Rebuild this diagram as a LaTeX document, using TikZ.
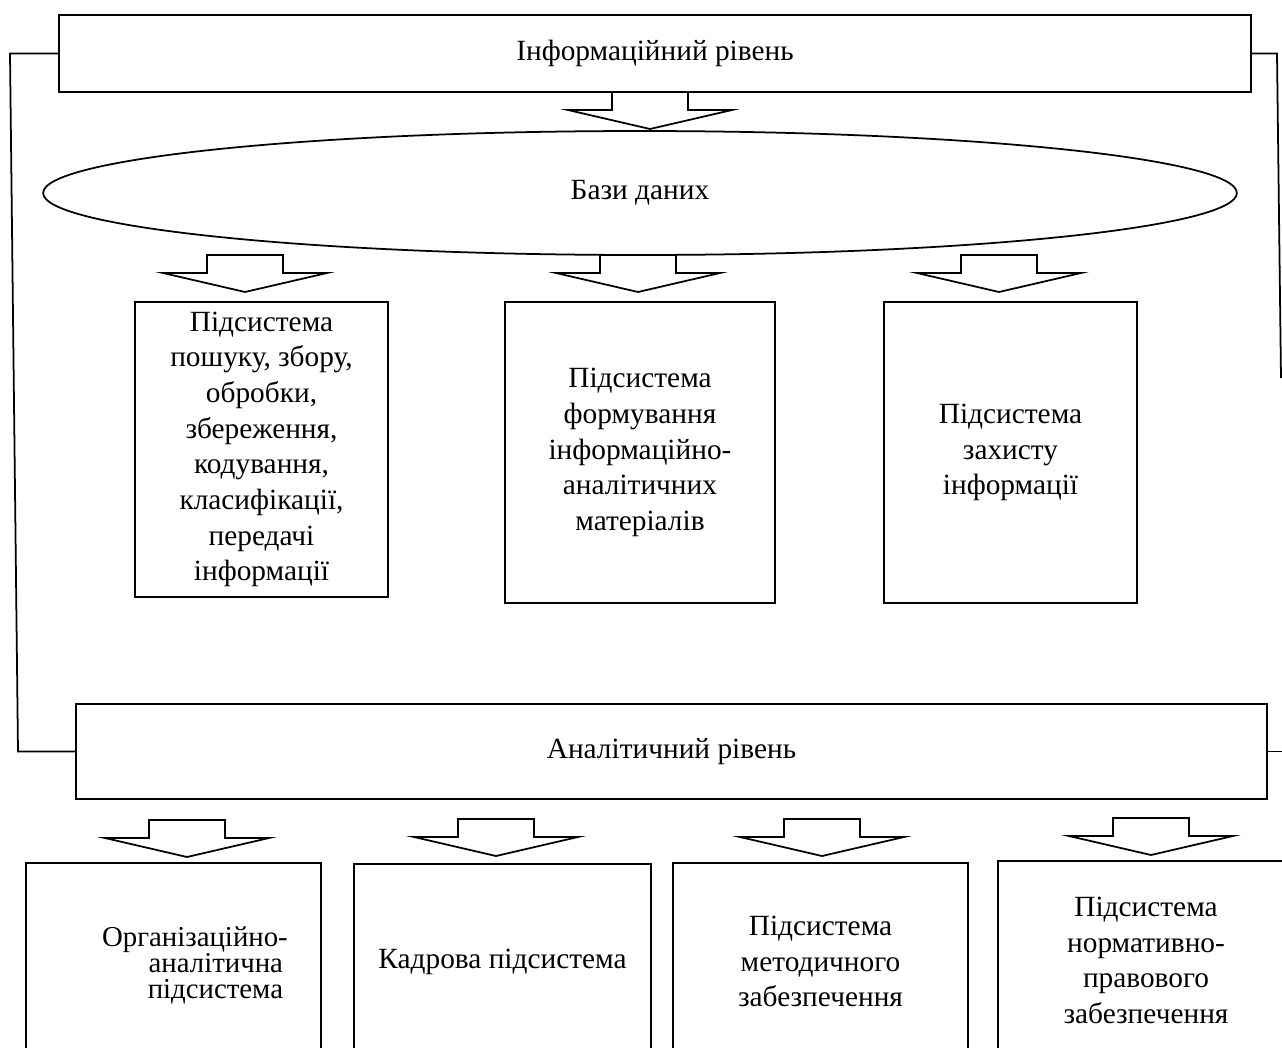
\documentclass[tikz,border=0pt]{standalone}
\usepackage{fontspec}
\setmainfont{Liberation Serif}
\usetikzlibrary{shapes.geometric}

\tikzset{
  box/.style={draw, line width=1pt, rectangle, inner sep=0pt, align=center,
    font=\fontsize{16.7}{20.3}\selectfont},
  dbell/.style={draw, line width=1pt, ellipse, inner sep=0pt,
    font=\fontsize{16.7}{20.3}\selectfont},
  plain/.style={inner sep=0pt, align=right, font=\fontsize{16.4}{14.8}\selectfont},
  link/.style={line width=1pt},
  blockarrow/.pic={
    \draw[line width=1pt, fill=white] (0,0) -- (-82,-19) -- (-38,-19) -- (-38,-37)
      -- (38,-37) -- (38,-19) -- (82,-19) -- cycle;
  }
}

\begin{document}
\begin{tikzpicture}[x=0.02cm, y=-0.02cm]
\useasboundingbox (0,0) rectangle (1282,1048);

% Upper level
\node[box, minimum width=23.84cm, minimum height=1.54cm] (info) at (655,53.5) {Інформаційний рівень};
\node[dbell, minimum width=23.88cm, minimum height=2.48cm] (db) at (640,193) {Бази даних};

\node[box, minimum width=5.06cm, minimum height=5.9cm] (search) at (261.5,449.5)
  {Підсистема\\ пошуку, збору,\\ обробки,\\ збереження,\\ кодування,\\ класифікації,\\ передачі\\ інформації};
\node[box, minimum width=5.4cm, minimum height=6.02cm] (materials) at (640,452.5)
  {Підсистема\\ формування\\ інформаційно-\\ аналітичних\\ матеріалів};
\node[box, minimum width=5.06cm, minimum height=6.02cm] (protect) at (1010.5,452.5)
  {Підсистема\\ захисту\\ інформації};

% Lower level
\node[box, minimum width=23.82cm, minimum height=1.9cm] (anal) at (671.5,751.5) {Аналітичний рівень};

\node[box, minimum width=5.9cm, minimum height=3.94cm] (orgbox) at (173.5,961.5) {};
\node[plain] (orgtext) at (195,965) {Організаційно-\\ аналітична\,\\ підсистема\,};
\node[box, minimum width=5.94cm, minimum height=3.92cm] (staff) at (502.5,962) {Кадрова підсистема};
\node[box, minimum width=5.9cm, minimum height=3.94cm] (method) at (820.5,961.5)
  {Підсистема\\ методичного\\ забезпечення};
\node[box, minimum width=5.92cm, minimum height=3.98cm] (legal) at (1146,960.5)
  {Підсистема\\ нормативно-\\ правового\\ забезпечення};

% Side links
\coordinate (lt) at (10,53.5);
\coordinate (lb) at (18,751.5);
\coordinate (rt) at (1277,53.5);
\coordinate (rend) at (1281,378);
\coordinate (rout) at (1290,751.5);
\draw[link] (info.west) -- (lt) -- (lb) -- (anal.west);
\draw[link] (info.east) -- (rt) -- (rend);
\draw[link] (anal.east) -- (rout);

% Block arrows
\pic at (650,129) {blockarrow};
\pic at (245,292) {blockarrow};
\pic at (638,292) {blockarrow};
\pic at (999,292) {blockarrow};
\pic at (187,857) {blockarrow};
\pic at (496,856) {blockarrow};
\pic at (822,856) {blockarrow};
\pic at (1151,855) {blockarrow};
\end{tikzpicture}
\end{document}
